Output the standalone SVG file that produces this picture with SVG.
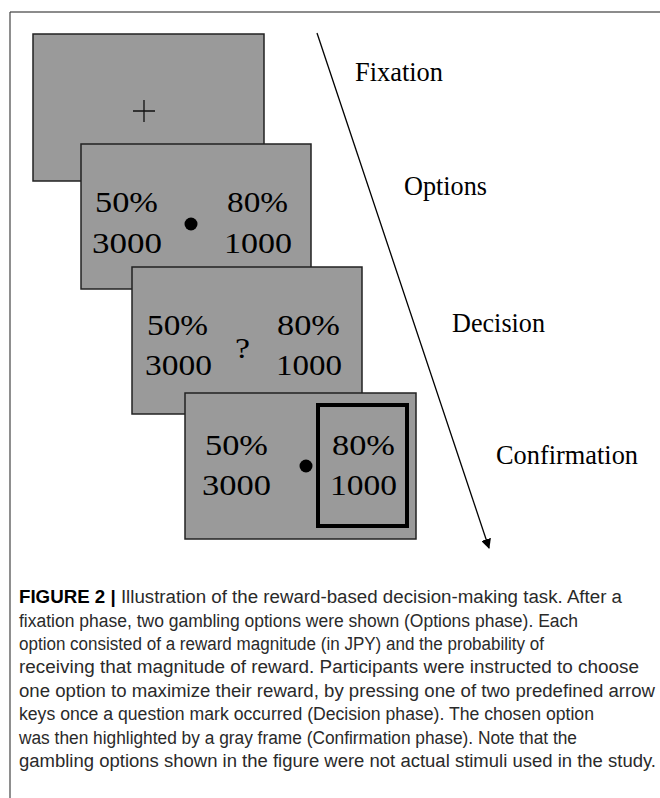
<svg xmlns="http://www.w3.org/2000/svg" width="660" height="798" viewBox="0 0 660 798">
<defs>
<style>
.panel{fill:#9a9a9a;stroke:#222;stroke-width:1.5}
.num{font-family:"Liberation Serif","Times New Roman",serif;font-size:30px;fill:#000}
.lab{font-family:"Liberation Serif","Times New Roman",serif;font-size:27px;fill:#000}
.cap{font-family:"Liberation Sans Narrow","Liberation Sans",Arial,sans-serif;font-size:18px;fill:#2a2a2a}
.capb{font-weight:bold;fill:#000}
</style>
<marker id="ah" markerWidth="10" markerHeight="10" refX="9" refY="5" orient="auto" markerUnits="userSpaceOnUse">
<path d="M0,0 L10,5 L0,10 Z" fill="#000"/>
</marker>
</defs>
<rect width="660" height="798" fill="#fff"/>
<g id="frame">
<line x1="10" y1="12" x2="660" y2="12" stroke="#666" stroke-width="1.5"/>
<line x1="10" y1="12" x2="10" y2="798" stroke="#444" stroke-width="1.2"/>
</g>
<g id="fixation">
<rect class="panel" x="33" y="34" width="231" height="147"/>
<path d="M133,111 H155 M144,100 V122" stroke="#111" stroke-width="1.3" fill="none"/>
</g>
<g id="options">
<rect class="panel" x="81" y="144" width="230" height="145"/>
<text class="num" x="95" y="212" textLength="63" lengthAdjust="spacingAndGlyphs">50%</text>
<text class="num" x="92" y="253" textLength="70" lengthAdjust="spacingAndGlyphs">3000</text>
<circle cx="191" cy="224" r="6.5" fill="#000"/>
<text class="num" x="227" y="212" textLength="61" lengthAdjust="spacingAndGlyphs">80%</text>
<text class="num" x="224" y="253" textLength="68" lengthAdjust="spacingAndGlyphs">1000</text>
</g>
<g id="decision">
<rect class="panel" x="132" y="267" width="230" height="147"/>
<text class="num" x="147" y="335" textLength="61" lengthAdjust="spacingAndGlyphs">50%</text>
<text class="num" x="145" y="375" textLength="67" lengthAdjust="spacingAndGlyphs">3000</text>
<text class="num" x="235" y="358" textLength="15" lengthAdjust="spacingAndGlyphs">?</text>
<text class="num" x="277" y="335" textLength="63" lengthAdjust="spacingAndGlyphs">80%</text>
<text class="num" x="276" y="375" textLength="66" lengthAdjust="spacingAndGlyphs">1000</text>
</g>
<g id="confirmation">
<rect class="panel" x="185" y="393" width="231" height="146"/>
<text class="num" x="205" y="455" textLength="63" lengthAdjust="spacingAndGlyphs">50%</text>
<text class="num" x="202" y="495" textLength="69" lengthAdjust="spacingAndGlyphs">3000</text>
<circle cx="306" cy="466" r="6.5" fill="#000"/>
<rect x="318" y="405" width="89" height="121" fill="none" stroke="#000" stroke-width="4"/>
<text class="num" x="332" y="455" textLength="63" lengthAdjust="spacingAndGlyphs">80%</text>
<text class="num" x="330" y="495" textLength="67" lengthAdjust="spacingAndGlyphs">1000</text>
</g>
<g id="connectors">
<line x1="317" y1="33" x2="489" y2="548" stroke="#000" stroke-width="1.3" marker-end="url(#ah)"/>
</g>
<g id="labels">
<text class="lab" x="355" y="81" textLength="88" lengthAdjust="spacingAndGlyphs">Fixation</text>
<text class="lab" x="404" y="195" textLength="83" lengthAdjust="spacingAndGlyphs">Options</text>
<text class="lab" x="452" y="332" textLength="93" lengthAdjust="spacingAndGlyphs">Decision</text>
<text class="lab" x="496" y="464" textLength="142" lengthAdjust="spacingAndGlyphs">Confirmation</text>
</g>
<g id="caption">
<text class="cap" x="19" y="603" textLength="603" lengthAdjust="spacingAndGlyphs"><tspan class="capb">FIGURE 2 |</tspan> Illustration of the reward-based decision-making task. After a</text>
<text class="cap" x="19" y="627" textLength="559" lengthAdjust="spacingAndGlyphs">fixation phase, two gambling options were shown (Options phase). Each</text>
<text class="cap" x="19" y="650" textLength="525" lengthAdjust="spacingAndGlyphs">option consisted of a reward magnitude (in JPY) and the probability of</text>
<text class="cap" x="19" y="673" textLength="620" lengthAdjust="spacingAndGlyphs">receiving that magnitude of reward. Participants were instructed to choose</text>
<text class="cap" x="19" y="697" textLength="636" lengthAdjust="spacingAndGlyphs">one option to maximize their reward, by pressing one of two predefined arrow</text>
<text class="cap" x="19" y="720" textLength="575" lengthAdjust="spacingAndGlyphs">keys once a question mark occurred (Decision phase). The chosen option</text>
<text class="cap" x="19" y="744" textLength="558" lengthAdjust="spacingAndGlyphs">was then highlighted by a gray frame (Confirmation phase). Note that the</text>
<text class="cap" x="19" y="767" textLength="637" lengthAdjust="spacingAndGlyphs">gambling options shown in the figure were not actual stimuli used in the study.</text>
</g>
</svg>
